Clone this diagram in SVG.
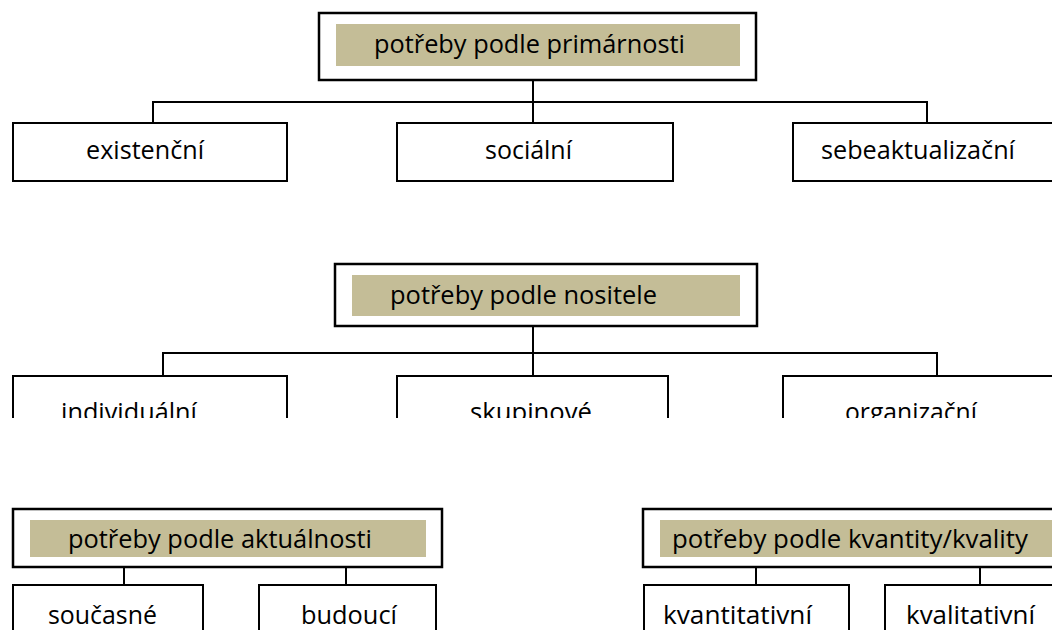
<svg xmlns="http://www.w3.org/2000/svg" width="1052" height="630" viewBox="0 0 1052 630">
<defs>
<style>
.box{fill:#fff;stroke:#000;stroke-width:2}
.hdr{fill:#fff;stroke:#000;stroke-width:2.5}
.tan{fill:#c4bd97}
.t{font-family:"Open Sans","Noto Sans","DejaVu Sans",sans-serif;font-size:26px;fill:#000}
.c{fill:none;stroke:#000;stroke-width:2}
</style>
<clipPath id="row2"><rect x="0" y="0" width="1052" height="418"/></clipPath>
</defs>
<rect width="1052" height="630" fill="#fff"/>
<g id="connectors">
<polyline class="c" points="533,80 533,102"/>
<polyline class="c" points="153,123 153,102 927,102 927,123"/>
<polyline class="c" points="533,102 533,123"/>
<polyline class="c" points="533,326 533,353"/>
<polyline class="c" points="163,376 163,353 937,353 937,376"/>
<polyline class="c" points="533,353 533,376"/>
<polyline class="c" points="124,567 124,585"/>
<polyline class="c" points="346,567 346,585"/>
<polyline class="c" points="756,567 756,585"/>
<polyline class="c" points="980,567 980,585"/>
</g>
<g id="n-primarnosti">
<rect class="hdr" x="319" y="13" width="437" height="67"/>
<rect class="tan" x="336" y="24" width="404" height="42"/>
<text class="t" x="374" y="53" textLength="311" lengthAdjust="spacingAndGlyphs">potřeby podle primárnosti</text>
</g>
<g id="n-existencni">
<rect class="box" x="13" y="123" width="274" height="58"/>
<text class="t" x="86" y="159" textLength="118" lengthAdjust="spacingAndGlyphs">existenční</text>
</g>
<g id="n-socialni">
<rect class="box" x="397" y="123" width="276" height="58"/>
<text class="t" x="485" y="159" textLength="87" lengthAdjust="spacingAndGlyphs">sociální</text>
</g>
<g id="n-sebeaktualizacni">
<rect class="box" x="793" y="123" width="270" height="58"/>
<text class="t" x="821" y="159" textLength="194" lengthAdjust="spacingAndGlyphs">sebeaktualizační</text>
</g>
<g id="n-nositele">
<rect class="hdr" x="335" y="264" width="422" height="62"/>
<rect class="tan" x="352" y="275" width="388" height="41"/>
<text class="t" x="390" y="304" textLength="267" lengthAdjust="spacingAndGlyphs">potřeby podle nositele</text>
</g>
<g clip-path="url(#row2)">
<g id="n-individualni">
<rect class="box" x="13" y="376" width="274" height="58"/>
<text class="t" x="61" y="421" textLength="136" lengthAdjust="spacingAndGlyphs">individuální</text>
</g>
<g id="n-skupinove">
<rect class="box" x="397" y="376" width="271" height="58"/>
<text class="t" x="470" y="421" textLength="122" lengthAdjust="spacingAndGlyphs">skupinové</text>
</g>
<g id="n-organizacni">
<rect class="box" x="783" y="376" width="280" height="58"/>
<text class="t" x="845" y="421" textLength="132" lengthAdjust="spacingAndGlyphs">organizační</text>
</g>
</g>
<g id="n-aktualnosti">
<rect class="hdr" x="13" y="509" width="429" height="58"/>
<rect class="tan" x="30" y="520" width="396" height="37"/>
<text class="t" x="68" y="548" textLength="304" lengthAdjust="spacingAndGlyphs">potřeby podle aktuálnosti</text>
</g>
<g id="n-soucasne">
<rect class="box" x="13" y="585" width="190" height="58"/>
<text class="t" x="48" y="624" textLength="109" lengthAdjust="spacingAndGlyphs">současné</text>
</g>
<g id="n-budouci">
<rect class="box" x="259" y="585" width="177" height="58"/>
<text class="t" x="301" y="624" textLength="96" lengthAdjust="spacingAndGlyphs">budoucí</text>
</g>
<g id="n-kvantity">
<rect class="hdr" x="643" y="509" width="420" height="58"/>
<rect class="tan" x="660" y="520" width="392" height="37"/>
<text class="t" x="672" y="548" textLength="356" lengthAdjust="spacingAndGlyphs">potřeby podle kvantity/kvality</text>
</g>
<g id="n-kvantitativni">
<rect class="box" x="644" y="585" width="205" height="58"/>
<text class="t" x="663" y="624" textLength="149" lengthAdjust="spacingAndGlyphs">kvantitativní</text>
</g>
<g id="n-kvalitativni">
<rect class="box" x="885" y="585" width="180" height="58"/>
<text class="t" x="906" y="624" textLength="129" lengthAdjust="spacingAndGlyphs">kvalitativní</text>
</g>
</svg>
